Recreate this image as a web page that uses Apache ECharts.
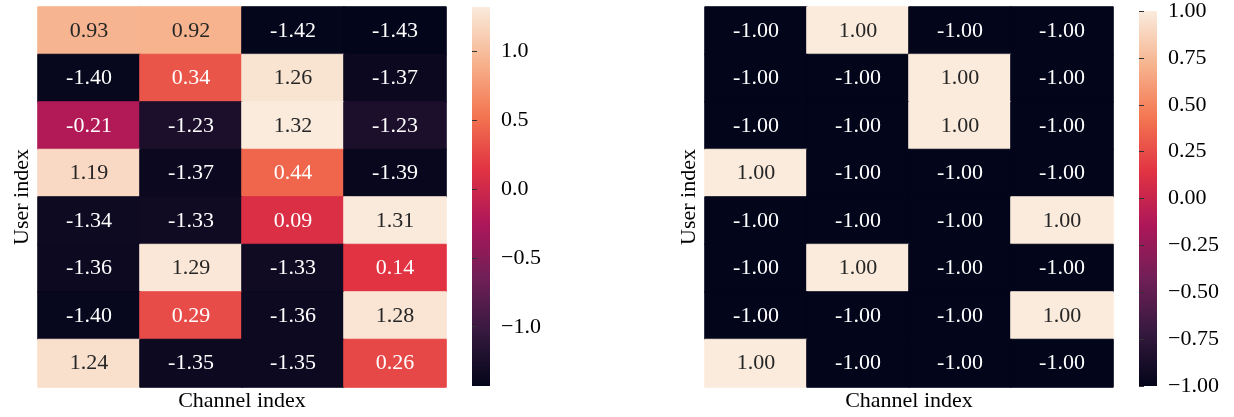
<!DOCTYPE html>
<html>
<head>
<meta charset="utf-8">
<script src="https://cdn.jsdelivr.net/npm/echarts@6/dist/echarts.min.js"></script>
<style>
html,body{margin:0;padding:0;background:#fff;}
#c{width:1234px;height:417px;}
</style>
</head>
<body>
<div id="c"></div>
<script>
const channels = ['0', '1', '2', '3'];
const users = ['0', '1', '2', '3', '4', '5', '6', '7'];
const leftValues = [
  [0.93, 0.92, -1.42, -1.43],
  [-1.40, 0.34, 1.26, -1.37],
  [-0.21, -1.23, 1.32, -1.23],
  [1.19, -1.37, 0.44, -1.39],
  [-1.34, -1.33, 0.09, 1.31],
  [-1.36, 1.29, -1.33, 0.14],
  [-1.40, 0.29, -1.36, 1.28],
  [1.24, -1.35, -1.35, 0.26]
];
const rightValues = [
  [-1, 1, -1, -1],
  [-1, -1, 1, -1],
  [-1, -1, 1, -1],
  [1, -1, -1, -1],
  [-1, -1, -1, 1],
  [-1, 1, -1, -1],
  [-1, -1, -1, 1],
  [1, -1, -1, -1]
];
const leftRange = [-1.43, 1.32];
const rightRange = [-1.0, 1.0];
const leftTicks = [-1.0, -0.5, 0.0, 0.5, 1.0];
const rightTicks = [-1.0, -0.75, -0.5, -0.25, 0.0, 0.25, 0.5, 0.75, 1.0];

const rocket = ['#03051A', '#35193E', '#701F57', '#AD1759', '#E13342', '#F37651', '#F6B48F', '#FAEBDD'];
const FONT = 'Liberation Serif';
const FS = 22;

function toData(vals, range) {
  const out = [];
  vals.forEach((row, r) => row.forEach((v, c) => {
    const t = (v - range[0]) / (range[1] - range[0]);
    out.push({
      value: [c, r, v],
      itemStyle: { borderWidth: 1, borderColor: echarts.color.lerp(t, rocket) },
      label: { color: t > 0.75 ? '#262626' : '#ffffff' }
    });
  }));
  return out;
}
function fmtTick(d) {
  return v => (v < 0 ? '\u2212' + Math.abs(v).toFixed(d) : v.toFixed(d));
}
const barGradient = {
  type: 'linear', x: 0, y: 1, x2: 0, y2: 0,
  colorStops: rocket.map((c, i) => ({ offset: i / (rocket.length - 1), color: c }))
};

const chart = echarts.init(document.getElementById('c'), null, { renderer: 'canvas' });

const catX = (gi, name) => ({
  type: 'category', data: channels, gridIndex: gi,
  axisLine: { show: false }, axisTick: { show: false }, axisLabel: { show: false }, splitLine: { show: false },
  name: name, nameLocation: 'middle', nameGap: 3,
  nameTextStyle: { fontFamily: FONT, fontSize: FS, color: '#000' }
});
const catY = (gi, name) => ({
  type: 'category', data: users, gridIndex: gi, inverse: true,
  axisLine: { show: false }, axisTick: { show: false }, axisLabel: { show: false }, splitLine: { show: false },
  name: name, nameLocation: 'middle', nameGap: 5, nameRotate: 90,
  nameTextStyle: { fontFamily: FONT, fontSize: FS, color: '#000' }
});
const cbX = gi => ({ type: 'value', gridIndex: gi, show: false });
const cbY = (gi, range, ticks, d) => ({
  type: 'value', gridIndex: gi, position: 'right', min: range[0], max: range[1],
  axisLine: { show: false }, splitLine: { show: false },
  axisTick: { show: true, length: 5, inside: false, customValues: ticks, lineStyle: { color: '#333', width: 1 } },
  axisLabel: { show: true, customValues: ticks, formatter: fmtTick(d), fontFamily: FONT, fontSize: FS, color: '#000', margin: 11 }
});

chart.setOption({
  animation: false,
  backgroundColor: '#ffffff',
  grid: [
    { left: 38, top: 7, width: 408, height: 380 },
    { left: 705, top: 7, width: 408, height: 380 },
    { left: 472, top: 7, width: 18, height: 379, show: true, borderWidth: 0, backgroundColor: barGradient },
    { left: 1139, top: 7, width: 18, height: 379, show: true, borderWidth: 0, backgroundColor: barGradient }
  ],
  xAxis: [catX(0, 'Channel index'), catX(1, 'Channel index'), cbX(2), cbX(3)],
  yAxis: [catY(0, 'User index'), catY(1, 'User index'), cbY(2, leftRange, leftTicks, 1), cbY(3, rightRange, rightTicks, 2)],
  visualMap: [
    { type: 'continuous', seriesIndex: 0, min: leftRange[0], max: leftRange[1], show: false,
      inRange: { color: rocket } },
    { type: 'continuous', seriesIndex: 1, min: rightRange[0], max: rightRange[1], show: false,
      inRange: { color: rocket } }
  ],
  series: [
    { type: 'heatmap', xAxisIndex: 0, yAxisIndex: 0, data: toData(leftValues, leftRange),
      label: { show: true, fontFamily: FONT, fontSize: FS, formatter: p => p.value[2].toFixed(2) },
      emphasis: { disabled: true } },
    { type: 'heatmap', xAxisIndex: 1, yAxisIndex: 1, data: toData(rightValues, rightRange),
      label: { show: true, fontFamily: FONT, fontSize: FS, formatter: p => p.value[2].toFixed(2) },
      emphasis: { disabled: true } }
  ]
});
</script>
</body>
</html>
